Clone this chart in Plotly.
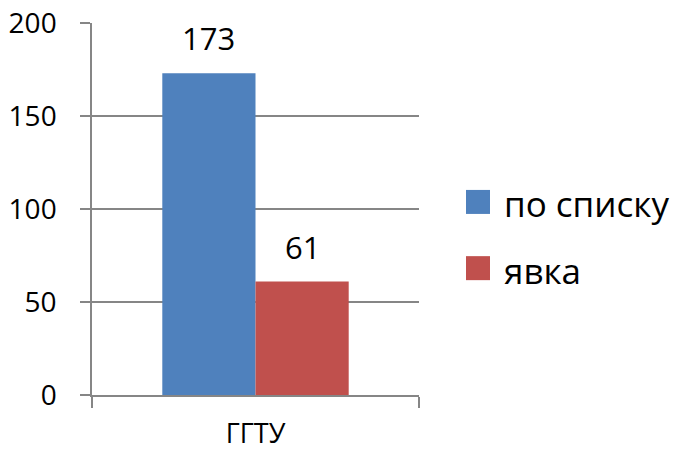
import plotly.graph_objects as go

categories = ["ГГТУ"]
series_names = ["по списку", "явка"]
series_values = [[173], [61]]
series_colors = ["#4F81BD", "#C0504D"]
y_ticks = [0, 50, 100, 150, 200]

FONT = "Open Sans"
fig = go.Figure()
for name, vals, col in zip(series_names, series_values, series_colors):
    fig.add_trace(go.Bar(x=categories, y=vals, name=name, marker=dict(color=col, line=dict(width=0)),
                         showlegend=False))

bargap = 0.43
plot_w = 676 - 92 - 257
bar_w = plot_w * (1 - bargap) / len(series_names)
for i, (vals, name) in enumerate(zip(series_values, series_names)):
    off = (i - (len(series_names) - 1) / 2) * bar_w
    for c, v in zip(categories, vals):
        fig.add_annotation(x=c, y=v, text=str(v), showarrow=False, xshift=off, yshift=12,
                           yanchor="bottom", font=dict(family=FONT, size=31, color="#000000"))

# custom legend
leg_y = [0.519, 0.341]
for name, col, yy in zip(series_names, series_colors, leg_y):
    fig.add_shape(type="rect", xref="paper", yref="paper", xsizemode="pixel", ysizemode="pixel",
                  xanchor=1.1437, yanchor=yy, x0=0, x1=24, y0=-12, y1=12,
                  fillcolor=col, line=dict(width=0))
    fig.add_annotation(xref="paper", yref="paper", x=1.254, y=yy, text=name, showarrow=False,
                       xanchor="left", yanchor="middle", yshift=-2,
                       font=dict(family=FONT, size=35, color="#000000"))

fig.update_layout(
    width=676, height=454,
    margin=dict(l=92, r=257, t=23, b=59),
    paper_bgcolor="white", plot_bgcolor="white",
    barmode="group", bargap=bargap, bargroupgap=0,
    font=dict(family=FONT, color="#000000"),
)
fig.update_yaxes(range=[0, 200], tickvals=y_ticks, showgrid=True, gridcolor="#868686", gridwidth=1.5,
                 showline=True, linecolor="#868686", linewidth=1.5, ticks="outside", ticklen=10,
                 tickcolor="#868686", tickwidth=1.5, tickfont=dict(family=FONT, size=28, color="#000000"),
                 ticklabelstandoff=18, zeroline=False, automargin=False)
fig.update_xaxes(showline=True, linecolor="#868686", linewidth=2, ticks="outside", tickson="boundaries",
                 ticklen=11, tickcolor="#868686", tickwidth=1.5,
                 tickfont=dict(family=FONT, size=27, color="#000000"), ticklabelstandoff=14,
                 automargin=False)

fig.write_html("out.html", config={"displayModeBar": False},
               post_script="document.body.style.margin='0';document.body.style.overflow='hidden';")
